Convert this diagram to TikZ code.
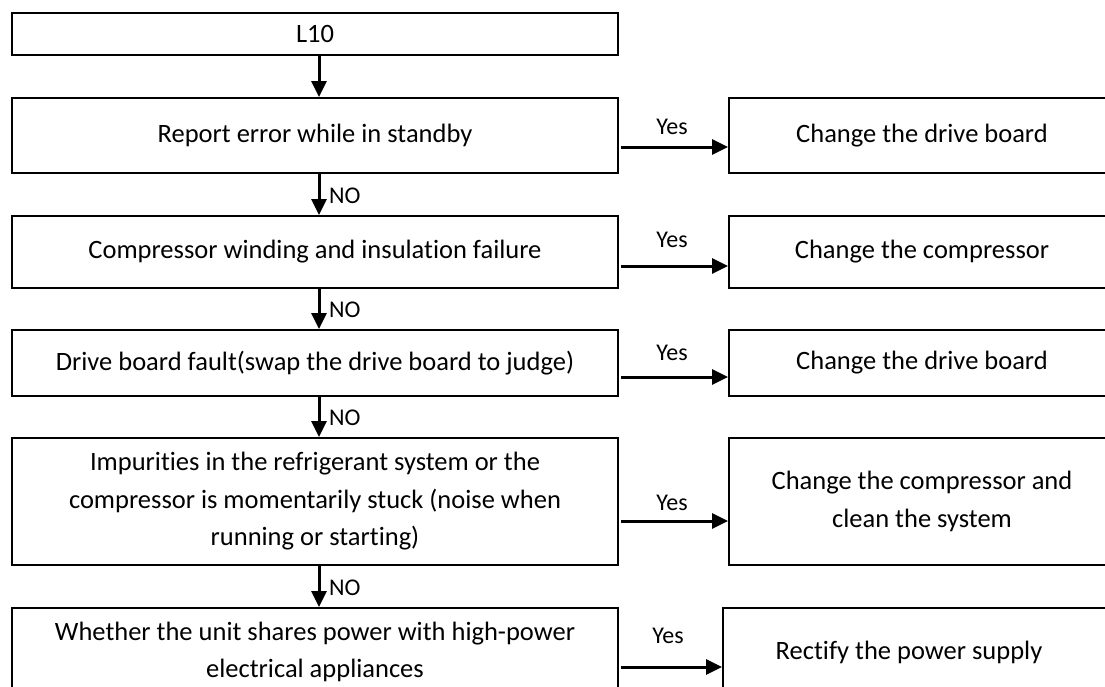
\documentclass[tikz,border=0pt]{standalone}
\usepackage{fontspec}
\setmainfont{Carlito}[Ligatures=NoCommon]
\usetikzlibrary{arrows.meta}
\begin{document}
\begin{tikzpicture}[x=1pt,y=-1pt,
  box/.style={draw=black,line width=2pt,rectangle,inner sep=0pt,align=center,
    font=\fontsize{26.5}{37.5}\selectfont},
  lbox/.style={box,minimum width=606pt},
  rbox/.style={box,minimum width=386pt},
  arr/.style={line width=3pt,-{Triangle[length=16pt,width=15pt]}},
  lab/.style={font=\fontsize{24}{28}\selectfont,inner sep=0pt}]
\useasboundingbox (0,0) rectangle (1105,686);
\fill[white] (0,0) rectangle (1105,686);
% left boxes
\node[lbox,minimum height=42pt] (b1) at (315,34) {L10};
\node[lbox,minimum height=75pt] (b2) at (315,135.5) {Report error while in standby};
\node[lbox,minimum height=72pt] (b3) at (315,252) {Compressor winding and insulation failure};
\node[lbox,minimum height=66pt] (b4) at (315,363) {Drive board fault(swap the drive board to judge)};
\node[lbox,minimum height=127pt] (b5) at (315,501.5) {Impurities in the refrigerant system or the\\compressor is momentarily stuck (noise when\\running or starting)};
\node[lbox,minimum height=88pt] (b6) at (315,652) {Whether the unit shares power with high-power\\electrical appliances};
% right boxes
\node[rbox,minimum height=75pt] (r2) at (922,135.5) {Change the drive board};
\node[rbox,minimum height=72pt] (r3) at (922,252) {Change the compressor};
\node[rbox,minimum height=66pt] (r4) at (922,363) {Change the drive board};
\node[rbox,minimum height=127pt] (r5) at (922,501.5) {Change the compressor and\\clean the system};
\node[rbox,minimum width=398pt,minimum height=88pt] (r6) at (922,652) {Rectify the power supply\hspace*{26pt}};
% vertical arrows
\draw[arr] ([xshift=4pt]b1.south) -- ([xshift=4pt]b2.north);
\draw[arr] ([xshift=4pt]b2.south) -- ([xshift=4pt]b3.north);
\draw[arr] ([xshift=4pt]b3.south) -- ([xshift=4pt]b4.north);
\draw[arr] ([xshift=4pt]b4.south) -- ([xshift=4pt]b5.north);
\draw[arr] ([xshift=4pt]b5.south) -- ([xshift=4pt]b6.north);
% NO labels
\node[lab,anchor=west] (n2) at (329,196) {NO};
\node[lab,anchor=west] (n3) at (329,310) {NO};
\node[lab,anchor=west] (n4) at (329,418) {NO};
\node[lab,anchor=west] (n5) at (329,588) {NO};
% horizontal arrows
\draw[arr] ([xshift=2pt,yshift=-11.5pt]b2.east) -- ([yshift=-11.5pt]r2.west);
\draw[arr] ([xshift=2pt,yshift=-14pt]b3.east) -- ([yshift=-14pt]r3.west);
\draw[arr] ([xshift=2pt,yshift=-14pt]b4.east) -- ([yshift=-14pt]r4.west);
\draw[arr] ([xshift=2pt,yshift=-19.5pt]b5.east) -- ([yshift=-19.5pt]r5.west);
\draw[arr] ([xshift=2pt,yshift=-15pt]b6.east) -- ([yshift=-15pt]r6.west);
% Yes labels
\node[lab] (y2) at (672,127) {Yes};
\node[lab] (y3) at (672,240) {Yes};
\node[lab] (y4) at (672,353) {Yes};
\node[lab] (y5) at (672,503) {Yes};
\node[lab] (y6) at (668,636) {Yes};
\end{tikzpicture}
\end{document}
